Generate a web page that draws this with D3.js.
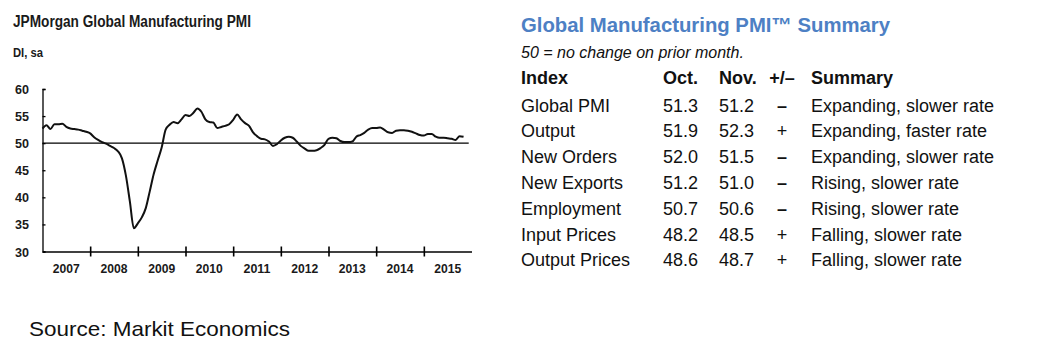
<!DOCTYPE html>
<html>
<head>
<meta charset="utf-8">
<script src="https://cdn.jsdelivr.net/npm/d3@7"></script>
<style>
  html, body { margin: 0; padding: 0; background: #fff; }
  svg { display: block; font-family: "Liberation Sans", Arial, sans-serif; }
</style>
</head>
<body>
<svg id="chart" width="1045" height="359"></svg>
<script>
// ---------- data ----------
const years = ["2007", "2008", "2009", "2010", "2011", "2012", "2013", "2014", "2015"];
const yTicks = [30, 35, 40, 45, 50, 55, 60];
// Monthly JPMorgan Global Manufacturing PMI, Jan 2007 .. Nov 2015
const pmi = [
  52.7, 53.3, 52.6, 53.5, 53.5, 53.6, 53.0, 52.7, 52.6, 52.5, 52.3, 52.1, // 2007
  51.8, 51.1, 50.6, 50.2, 49.9, 49.5, 49.1, 48.5, 47.2, 44.0, 39.2, 34.3, // 2008
  35.2, 36.3, 38.0, 41.1, 44.3, 46.8, 49.2, 52.5, 53.4, 53.9, 53.7, 54.4, // 2009
  55.2, 55.0, 55.6, 56.4, 55.8, 54.4, 53.9, 53.8, 52.8, 53.0, 53.2, 53.5, // 2010
  54.3, 55.3, 54.4, 53.7, 53.2, 52.0, 51.3, 50.8, 50.7, 50.3, 49.5, 49.8, // 2011
  50.5, 51.0, 51.2, 51.0, 50.3, 49.5, 49.0, 48.6, 48.6, 48.7, 49.1, 49.7, // 2012
  50.8, 51.0, 50.9, 50.4, 50.2, 50.2, 50.3, 51.2, 51.5, 51.9, 52.5, 52.8, // 2013
  52.8, 52.9, 52.5, 52.0, 51.9, 52.3, 52.4, 52.4, 52.3, 52.1, 51.8, 51.5, // 2014
  51.4, 51.7, 51.7, 51.2, 51.0, 51.0, 50.9, 50.8, 50.6, 51.3, 51.2        // 2015
];
const noChange = 50;

const indexNames = ["Global PMI", "Output", "New Orders", "New Exports", "Employment", "Input Prices", "Output Prices"];
const octValues = ["51.3", "51.9", "52.0", "51.2", "50.7", "48.2", "48.6"];
const novValues = ["51.2", "52.3", "51.5", "51.0", "50.6", "48.5", "48.7"];
const changeSigns = ["–", "+", "–", "–", "–", "+", "+"];
const summaries = ["Expanding, slower rate", "Expanding, faster rate", "Expanding, slower rate",
  "Rising, slower rate", "Rising, slower rate", "Falling, slower rate", "Falling, slower rate"];
const headers = ["Index", "Oct.", "Nov.", "+/–", "Summary"];

// ---------- chart ----------
const svg = d3.select("#chart");
const x = d3.scaleLinear().domain([0, 108]).range([42.5, 471.5]);
const y = d3.scaleLinear().domain([30, 60]).range([251.5, 89]);

svg.append("text").attr("x", 13).attr("y", 26.5)
  .attr("font-size", 16).attr("font-weight", "bold").attr("fill", "#1a1a1a")
  .attr("textLength", 238).attr("lengthAdjust", "spacingAndGlyphs")
  .text("JPMorgan Global Manufacturing PMI");
svg.append("text").attr("x", 13).attr("y", 56.5)
  .attr("font-size", 13).attr("font-weight", "bold").attr("fill", "#1a1a1a")
  .attr("textLength", 30).attr("lengthAdjust", "spacingAndGlyphs")
  .text("DI, sa");

// y axis (ticks inward)
const yAxis = svg.append("g").attr("transform", `translate(${x(0)},0)`)
  .call(d3.axisLeft(y).tickValues(yTicks).tickSize(-3).tickFormat(""));
yAxis.select(".domain").attr("stroke", "#000").attr("stroke-width", 1.3);
yAxis.selectAll(".tick line").attr("stroke", "#000").attr("stroke-width", 1.3);

svg.append("g").selectAll("text").data(yTicks).join("text")
  .attr("x", 29).attr("y", d => y(d) + 5)
  .attr("text-anchor", "end").attr("font-size", 13.5).attr("font-weight", "bold").attr("fill", "#1a1a1a")
  .attr("textLength", 14).attr("lengthAdjust", "spacingAndGlyphs")
  .text(d => d);

// x axis (ticks crossing)
const xAxis = svg.append("g").attr("transform", `translate(0,${y(30)})`)
  .call(d3.axisBottom(x).tickValues(d3.range(12, 97, 12)).tickSize(5).tickFormat("").tickSizeOuter(0));
xAxis.select(".domain").attr("stroke", "#000").attr("stroke-width", 1.3);
xAxis.selectAll(".tick line").attr("y1", -5).attr("stroke", "#000").attr("stroke-width", 1.6);

svg.append("g").selectAll("text").data(years).join("text")
  .attr("x", (d, i) => x(i * 12 + 6)).attr("y", 273)
  .attr("text-anchor", "middle").attr("font-size", 13.5).attr("font-weight", "bold").attr("fill", "#1a1a1a")
  .attr("textLength", 27).attr("lengthAdjust", "spacingAndGlyphs")
  .text(d => d);

// 50 reference line
svg.append("line")
  .attr("x1", x(0)).attr("x2", x(107.3))
  .attr("y1", y(noChange)).attr("y2", y(noChange))
  .attr("stroke", "#000").attr("stroke-width", 1.1);

// PMI line
svg.append("path").datum(pmi)
  .attr("fill", "none").attr("stroke", "#111").attr("stroke-width", 2)
  .attr("stroke-linejoin", "round")
  .attr("d", d3.line().x((d, i) => x(i)).y(d => y(d)).curve(d3.curveMonotoneX));

// ---------- summary table ----------
svg.append("text").attr("x", 521).attr("y", 31.5)
  .attr("font-size", 20).attr("font-weight", "bold").attr("fill", "#4d80c4")
  .attr("textLength", 369).attr("lengthAdjust", "spacingAndGlyphs")
  .text("Global Manufacturing PMI™ Summary");
svg.append("text").attr("x", 521).attr("y", 58)
  .attr("font-size", 16).attr("font-style", "italic").attr("fill", "#111")
  .text("50 = no change on prior month.");

const colX = [521, 663, 719, 782, 811];
const colAnchor = ["start", "start", "start", "middle", "start"];
svg.append("g").selectAll("text").data(headers).join("text")
  .attr("x", (d, i) => colX[i]).attr("y", 84)
  .attr("text-anchor", (d, i) => colAnchor[i])
  .attr("font-size", 18).attr("font-weight", "bold").attr("fill", "#111")
  .text(d => d);

const rows = svg.append("g").selectAll("g").data(indexNames).join("g")
  .attr("transform", (d, i) => `translate(0,${111.5 + i * 25.8})`);
rows.append("text").attr("x", colX[0]).attr("font-size", 18).attr("fill", "#111").text(d => d);
rows.append("text").attr("x", colX[1]).attr("font-size", 18).attr("fill", "#111").text((d, i) => octValues[i]);
rows.append("text").attr("x", colX[2]).attr("font-size", 18).attr("fill", "#111").text((d, i) => novValues[i]);
rows.append("text").attr("x", colX[3]).attr("text-anchor", "middle").attr("font-size", 18)
  .attr("font-weight", (d, i) => changeSigns[i] === "+" ? "normal" : "bold")
  .attr("fill", "#111").text((d, i) => changeSigns[i]);
rows.append("text").attr("x", colX[4]).attr("font-size", 18).attr("fill", "#111")
  .attr("textLength", (d, i) => null).text((d, i) => summaries[i]);

// source
svg.append("text").attr("x", 29).attr("y", 336)
  .attr("font-size", 21).attr("fill", "#111")
  .attr("textLength", 261).attr("lengthAdjust", "spacingAndGlyphs")
  .text("Source: Markit Economics");
</script>
</body>
</html>
